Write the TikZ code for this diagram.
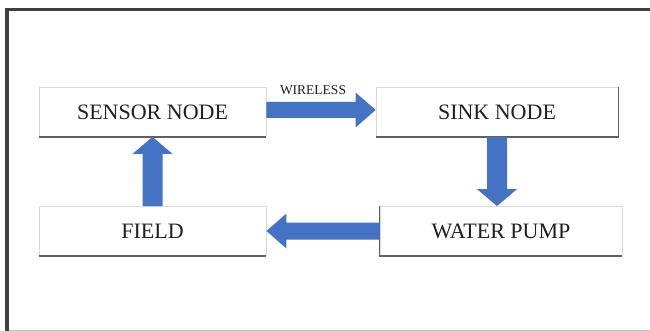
\documentclass[tikz,border=0pt]{standalone}
\usepackage{fontspec}
\setmainfont{Liberation Serif}
\usetikzlibrary{calc}
\definecolor{arrblue}{HTML}{4472C4}
\definecolor{txtgray}{HTML}{202020}
\tikzset{
  box/.style={draw=gray!30, line width=0.8pt, fill=white, minimum height=49pt,
    inner sep=0pt, text=txtgray, font=\fontsize{22}{24}\selectfont},
  edgeshade/.style={draw=gray!75!black, line width=1.6pt},
  arr/.style={fill=arrblue, draw=none},
  framedark/.style={draw=black!75, line width=3.5pt},
  framelight/.style={draw=gray!45, line width=1pt},
  lbl/.style={text=txtgray, font=\fontsize{13.5}{14}\selectfont, inner sep=0pt}
}
\begin{document}
\begin{tikzpicture}[x=1pt,y=-1pt]
\useasboundingbox (0,0) rectangle (650,331);
\fill[white] (0,0) rectangle (650,331);
% frame
\draw[framelight] (7,330) -- (650,330);
\draw[framedark] (7,331) -- (7,9.5) -- (650,9.5);

% boxes
\node[box, minimum width=227pt] (sensor) at (152.5,112) {SENSOR NODE};
\node[box, minimum width=242pt] (sink) at (497,112) {SINK NODE};
\node[box, minimum width=242pt] (pump) at (501,231) {WATER PUMP};
\node[box, minimum width=227pt] (field) at (152.5,231) {FIELD};

% darker edges
\draw[edgeshade] (sensor.south west) -- (sensor.south east);
\draw[edgeshade] (sink.south west) -- (sink.south east) -- (sink.north east);
\draw[edgeshade] (pump.north west) -- (pump.south west) -- (pump.south east);
\draw[edgeshade] (field.south west) -- (field.south east);

% sensor -> sink
\coordinate (t1) at ($(sink.west)+(0,-2)$);
\coordinate (s1) at (sensor.east |- t1);
\fill[arr] ($(s1)+(0,-8)$) -- ($(t1)+(-20,-8)$) -- ($(t1)+(-20,-17.5)$) -- (t1)
  -- ($(t1)+(-20,17.5)$) -- ($(t1)+(-20,8)$) -- ($(s1)+(0,8)$) -- cycle;
\node[lbl] (wl) at (313,90) {WIRELESS};

% sink -> pump
\coordinate (s2) at (sink.south);
\coordinate (t2) at (s2 |- pump.north);
\fill[arr] ($(s2)+(-10,0)$) -- ($(t2)+(-10,-17)$) -- ($(t2)+(-20,-17)$) -- (t2)
  -- ($(t2)+(20,-17)$) -- ($(t2)+(10,-17)$) -- ($(s2)+(10,0)$) -- cycle;

% pump -> field
\coordinate (s3) at (pump.west);
\coordinate (t3) at (field.east);
\fill[arr] ($(s3)+(0,-8.5)$) -- ($(t3)+(20,-8.5)$) -- ($(t3)+(20,-17.5)$) -- (t3)
  -- ($(t3)+(20,17.5)$) -- ($(t3)+(20,8.5)$) -- ($(s3)+(0,8.5)$) -- cycle;

% field -> sensor
\coordinate (s4) at (field.north);
\coordinate (t4) at (sensor.south);
\fill[arr] ($(s4)+(-10,0)$) -- ($(t4)+(-10,17)$) -- ($(t4)+(-20,17)$) -- (t4)
  -- ($(t4)+(20,17)$) -- ($(t4)+(10,17)$) -- ($(s4)+(10,0)$) -- cycle;
\end{tikzpicture}
\end{document}
